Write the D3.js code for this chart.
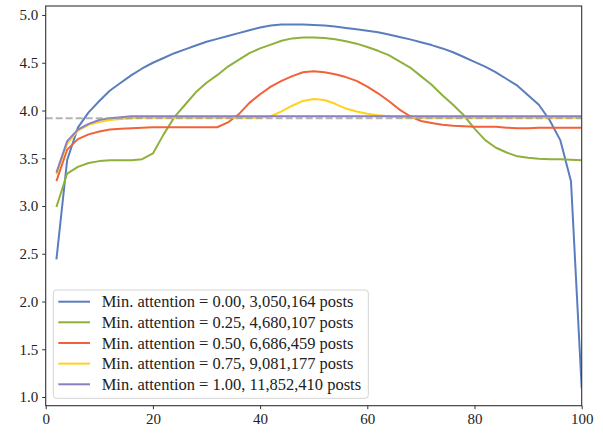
<!DOCTYPE html>
<html><head><meta charset="utf-8">
<script src="https://cdn.jsdelivr.net/npm/d3@7"></script>
<style>
html,body{margin:0;padding:0;background:#fff;}
text{font-family:"Liberation Serif","DejaVu Serif",serif;fill:#222;}
</style></head>
<body><svg id="chart" width="603" height="435"></svg>
<script>
const xValues = [2,4,6,8,10,12,14,16,18,20,22,24,26,28,30,32,34,36,38,40,42,44,46,48,50,52,54,56,58,60,62,64,66,68,70,72,74,76,78,80,82,84,86,88,90,92,94,96,98,100];
const att000 = [2.44,3.48,3.82,3.98,4.10,4.21,4.29,4.37,4.44,4.50,4.55,4.60,4.64,4.68,4.72,4.75,4.78,4.81,4.84,4.87,4.89,4.90,4.90,4.90,4.895,4.89,4.88,4.865,4.85,4.835,4.82,4.795,4.77,4.745,4.715,4.685,4.65,4.61,4.56,4.51,4.46,4.40,4.33,4.26,4.16,4.06,3.90,3.69,3.26,1.09];
const att025 = [2.99,3.34,3.41,3.45,3.47,3.48,3.48,3.48,3.49,3.55,3.75,3.93,4.06,4.19,4.29,4.37,4.46,4.53,4.60,4.65,4.69,4.73,4.755,4.765,4.765,4.76,4.745,4.725,4.70,4.665,4.625,4.58,4.515,4.45,4.36,4.27,4.16,4.06,3.95,3.81,3.69,3.61,3.56,3.52,3.505,3.495,3.49,3.49,3.485,3.48];
const att050 = [3.26,3.59,3.70,3.75,3.78,3.80,3.81,3.815,3.82,3.825,3.825,3.825,3.825,3.825,3.825,3.825,3.875,3.96,4.08,4.17,4.25,4.31,4.36,4.40,4.41,4.40,4.38,4.35,4.31,4.25,4.18,4.10,4.01,3.94,3.89,3.87,3.85,3.84,3.835,3.83,3.83,3.83,3.82,3.815,3.815,3.82,3.82,3.82,3.82,3.82];
const att075 = [3.33,3.65,3.79,3.85,3.88,3.90,3.91,3.92,3.925,3.925,3.925,3.925,3.925,3.925,3.925,3.925,3.925,3.925,3.925,3.925,3.94,3.99,4.05,4.10,4.12,4.11,4.07,4.02,3.99,3.965,3.95,3.94,3.93,3.925,3.925,3.925,3.925,3.925,3.925,3.925,3.925,3.925,3.925,3.925,3.925,3.925,3.925,3.925,3.925,3.925];
const att100 = [3.35,3.68,3.80,3.86,3.90,3.92,3.93,3.94,3.94,3.94,3.94,3.94,3.94,3.94,3.94,3.94,3.94,3.94,3.94,3.94,3.94,3.94,3.94,3.94,3.94,3.94,3.94,3.94,3.94,3.94,3.94,3.94,3.94,3.94,3.94,3.94,3.94,3.94,3.94,3.94,3.94,3.94,3.94,3.94,3.94,3.94,3.94,3.94,3.94,3.94];
const baseline = 3.92;
const seriesLabels = ["Min. attention = 0.00, 3,050,164 posts","Min. attention = 0.25, 4,680,107 posts","Min. attention = 0.50, 6,686,459 posts","Min. attention = 0.75, 9,081,177 posts","Min. attention = 1.00, 11,852,410 posts"];
const seriesColors = ["#5a7ebd","#8db13c","#f2623a","#ffd31c","#8a7fc0"];
const xTicks = [0,20,40,60,80,100];
const yTicks = [1.0,1.5,2.0,2.5,3.0,3.5,4.0,4.5,5.0];

const seriesData = [att000, att025, att050, att075, att100];
const svg = d3.select("#chart");
const L = 45.7, R = 581.7, T = 6, B = 405.7;
const x = d3.scaleLinear().domain([0,100]).range([L,R]);
const y = d3.scaleLinear().domain([1,5]).range([397,15]);
const serif = '"Liberation Serif","DejaVu Serif",serif';

svg.append("defs").append("clipPath").attr("id","clip")
  .append("rect").attr("x",L).attr("y",T).attr("width",R-L).attr("height",B-T);

const line = d3.line().x(d=>x(d[0])).y(d=>y(d[1]));
const g = svg.append("g").attr("clip-path","url(#clip)");
seriesData.forEach((vals,i)=>{
  g.append("path").datum(xValues.map((xv,j)=>[xv,vals[j]]))
    .attr("d",line).attr("fill","none").attr("stroke",seriesColors[i])
    .attr("stroke-width",2).attr("stroke-linejoin","round");
});
g.append("line").attr("x1",x(0)).attr("x2",x(100)).attr("y1",y(baseline)).attr("y2",y(baseline))
  .attr("stroke","#999").attr("stroke-opacity",0.75).attr("stroke-width",2).attr("stroke-dasharray","7,3");

// axes
const fs = 15;
const xAxis = d3.axisBottom(x).tickValues(xTicks).tickFormat(d3.format("d")).tickSizeOuter(0).tickSize(3.5).tickPadding(4);
const yAxis = d3.axisLeft(y).tickValues(yTicks).tickFormat(d3.format(".1f")).tickSizeOuter(0).tickSize(3.5).tickPadding(4);
const gx = svg.append("g").attr("transform",`translate(0,${B})`).call(xAxis);
const gy = svg.append("g").attr("transform",`translate(${L},0)`).call(yAxis);
[gx,gy].forEach(a=>{
  a.attr("font-family",serif).attr("font-size",fs);
  a.select(".domain").remove();
  a.selectAll(".tick line").attr("stroke","#333").attr("stroke-width",1);
  a.selectAll(".tick text").attr("font-family",serif).style("font-family",serif).style("font-size",fs+"px").attr("fill","#222");
});
// frame
svg.append("rect").attr("x",L).attr("y",T).attr("width",R-L).attr("height",B-T)
  .attr("fill","none").attr("stroke","#333").attr("stroke-width",1.1);

// legend
const lg = svg.append("g");
lg.append("rect").attr("x",53.3).attr("y",290).attr("width",315).attr("height",108.3)
  .attr("rx",3).attr("fill","#fff").attr("fill-opacity",0.85).attr("stroke","#d4d4d4").attr("stroke-width",1);
const rowY = [301.7,322.3,343,363.6,384.3];
seriesLabels.forEach((lab,i)=>{
  lg.append("line").attr("x1",58.3).attr("x2",90).attr("y1",rowY[i]).attr("y2",rowY[i])
    .attr("stroke",seriesColors[i]).attr("stroke-width",2);
  lg.append("text").attr("x",101.7).attr("y",rowY[i]).attr("dy","0.35em")
    .style("font-family",serif).style("font-size","100px").text(lab);
});
// fit legend font so first label ~252px wide
const first = lg.select("text").node().getComputedTextLength();
const lfs = 100*252/first;
lg.selectAll("text").style("font-size",lfs+"px");
</script></body></html>
